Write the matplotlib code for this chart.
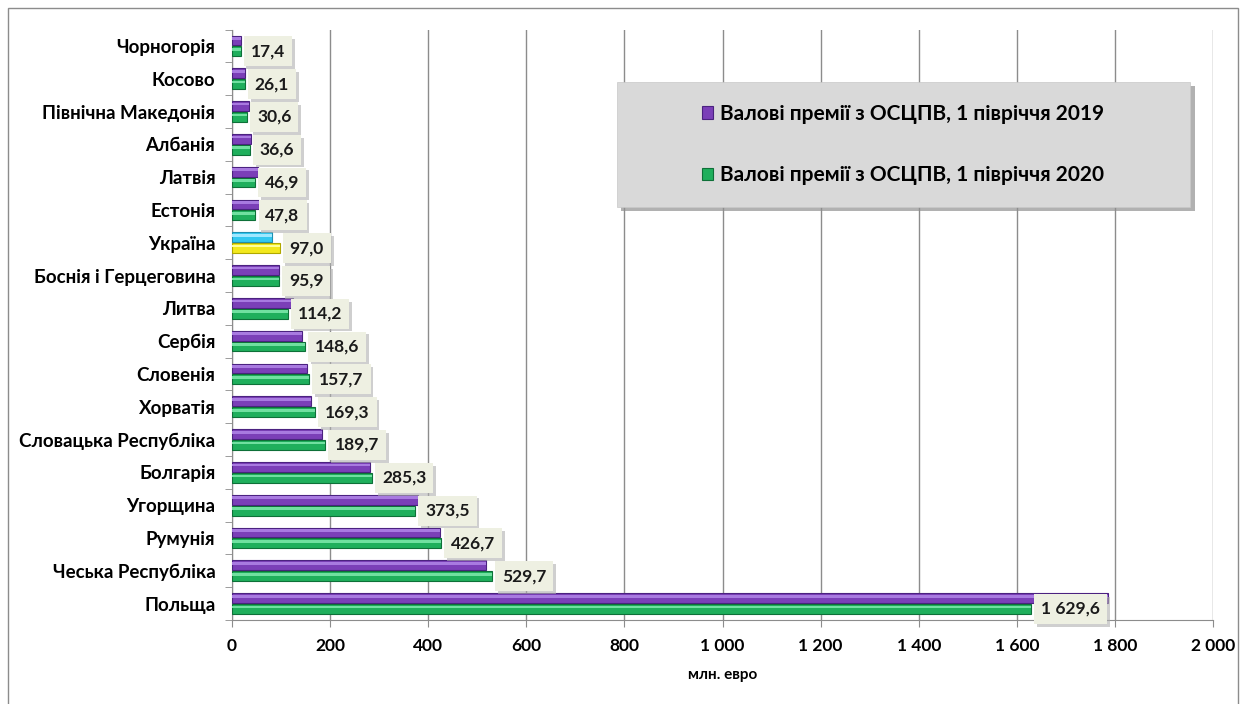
import numpy as np
import matplotlib
matplotlib.use("Agg")
import matplotlib.pyplot as plt
import matplotlib.patheffects as pe
from matplotlib.patches import Rectangle
from matplotlib.ticker import FuncFormatter

plt.rcParams["font.family"] = ["Lato", "Noto Sans", "DejaVu Sans"]

countries = ["Чорногорія", "Косово", "Північна Македонія", "Албанія", "Латвія",
             "Естонія", "Україна", "Боснія і Герцеговина", "Литва", "Сербія",
             "Словенія", "Хорватія", "Словацька Республіка", "Болгарія",
             "Угорщина", "Румунія", "Чеська Республіка", "Польща"]
prem_2019 = [18, 26.5, 35, 38, 52, 55, 81, 96, 124, 143, 153.5, 160.5,
             182.5, 282, 380, 424, 518, 1786]
prem_2020 = [17.4, 26.1, 30.6, 36.6, 46.9, 47.8, 97.0, 95.9, 114.2, 148.6,
             157.7, 169.3, 189.7, 285.3, 373.5, 426.7, 529.7, 1629.6]
label_2019 = "Валові премії з ОСЦПВ, 1 півріччя 2019"
label_2020 = "Валові премії з ОСЦПВ, 1 півріччя 2020"
highlight = "Україна"


def fmt_num(v, dec=1):
    s = f"{v:,.{dec}f}"
    return s.replace(",", " ").replace(".", ",")


fig = plt.figure(figsize=(12.45, 7.04), dpi=100)
fig.patches.append(Rectangle((8 / 1245, -0.05), 1230 / 1245, (704 - 8) / 704 + 0.05,
                             transform=fig.transFigure, fill=False,
                             edgecolor="#8c8c8c", linewidth=1.0))
ax = fig.add_axes([232 / 1245, 1 - 620 / 704, 981 / 1245, 590.5 / 704])

y = np.arange(len(countries))
h, off = 0.3, 0.165
c19 = ["#33C8F0" if c == highlight else "#7B3FB8" for c in countries]
c20 = ["#F2E81E" if c == highlight else "#1FAF5C" for c in countries]
e19 = ["#1E8FB0" if c == highlight else "#4B2280" for c in countries]
e20 = ["#B0A800" if c == highlight else "#0E7038" for c in countries]

b1 = ax.barh(y - off, prem_2019, height=h, color=c19, edgecolor=e19,
             linewidth=0.8, label=label_2019, zorder=3)
b2 = ax.barh(y + off, prem_2020, height=h, color=c20, edgecolor=e20,
             linewidth=0.8, label=label_2020, zorder=3)
# светлая полоска сверху — имитация объёма
hl19 = ["#9FE8FF" if c == highlight else "#A87AE0" for c in countries]
hl20 = ["#FFFF9A" if c == highlight else "#70E0A0" for c in countries]
ax.barh(y - off - 0.06, prem_2019, height=0.08, color=hl19, linewidth=0, zorder=4)
ax.barh(y + off - 0.06, prem_2020, height=0.08, color=hl20, linewidth=0, zorder=4)

for yi, v in zip(y, prem_2020):
    t = ax.annotate(fmt_num(v), xy=(v, yi + off), xytext=(10, 0),
                    textcoords="offset pixels", ha="left", va="center",
                    fontsize=12.5, fontweight="bold", color="#1a1a1a", zorder=6,
                    bbox=dict(boxstyle="square,pad=0.4", facecolor="#EEF0E2",
                              edgecolor="none"))
    t.get_bbox_patch().set_path_effects(
        [pe.SimplePatchShadow(offset=(2, -2), shadow_rgbFace="#b0b0b0", alpha=0.6),
         pe.Normal()])

ax.set_xlim(0, 2000)
ax.set_ylim(len(countries) - 0.5, -0.5)
ax.set_xticks(np.arange(0, 2001, 200))
ax.xaxis.set_major_formatter(FuncFormatter(lambda v, p: fmt_num(v, 0)))
ax.set_yticks(y)
ax.set_yticklabels(countries)
ax.set_yticks(np.arange(-0.5, len(countries), 1), minor=True)
ax.tick_params(axis="y", which="major", length=0, pad=12, labelsize=13.5)
ax.tick_params(axis="y", which="minor", length=5, color="#8c8c8c")
ax.tick_params(axis="x", length=5, color="#8c8c8c", labelsize=12.5, pad=8)
for lab in ax.get_xticklabels() + ax.get_yticklabels():
    lab.set_fontweight("bold")

ax.grid(axis="x", color="#8c8c8c", linewidth=1.0, zorder=0)
for s in ["top", "right"]:
    ax.spines[s].set_visible(False)
for s in ["left", "bottom"]:
    ax.spines[s].set_color("#8c8c8c")

ax.set_xlabel("млн. евро", fontsize=11, fontweight="bold", labelpad=10)

# панель легенды
panel = Rectangle((0.392, 0.6995), 0.585, 0.2115, transform=ax.transAxes,
                  facecolor="#D9D9D9", edgecolor="#c8c8c8", linewidth=0.5, zorder=7)
panel.set_path_effects([pe.SimplePatchShadow(offset=(3, -3), shadow_rgbFace="#909090",
                                             alpha=0.7), pe.Normal()])
ax.add_patch(panel)
leg = ax.legend(handles=[b1, b2], loc="center", bbox_to_anchor=(0.684, 0.805),
                frameon=False, fontsize=15, labelspacing=2.0,
                handlelength=0.55, handleheight=0.55, handletextpad=0.35)
leg.set_zorder(8)
for t in leg.get_texts():
    t.set_fontweight("bold")
leg.legend_handles[0].set_color("#7B3FB8")
leg.legend_handles[0].set_edgecolor("#4B2280")
leg.legend_handles[1].set_color("#1FAF5C")
leg.legend_handles[1].set_edgecolor("#0E7038")

fig.savefig("out.png", dpi=100)
